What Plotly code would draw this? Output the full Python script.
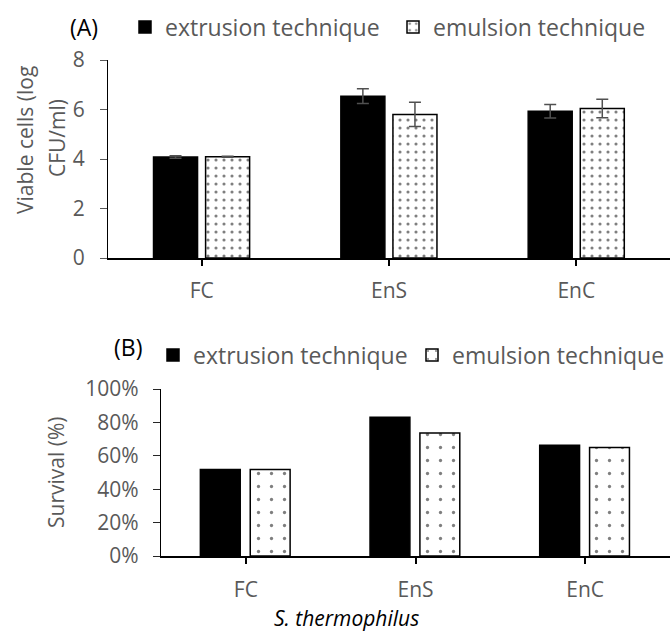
import plotly.graph_objects as go

categories = ["FC", "EnS", "EnC"]
series_names = ["extrusion technique", "emulsion technique"]

# Panel A: viable cells (log CFU/ml)
viable_extrusion = [4.08, 6.54, 5.93]
viable_extrusion_err = [0.05, 0.30, 0.27]
viable_emulsion = [4.09, 5.80, 6.04]
viable_emulsion_err = [0.02, 0.49, 0.37]

# Panel B: survival (%)
survival_extrusion = [0.518, 0.831, 0.663]
survival_emulsion = [0.518, 0.737, 0.649]

yA_ticks = [0, 2, 4, 6, 8]
yB_ticks = [0, 0.2, 0.4, 0.6, 0.8, 1.0]

W, H = 670, 632
FONT = "Open Sans"
GRAY = "#595959"

def px(x):
    return x / W

def py(y):
    return 1 - y / H

fig = go.Figure()

# Panel A
fig.add_trace(go.Bar(
    x=categories, y=viable_extrusion, name=series_names[0],
    marker=dict(color="black", line=dict(color="black", width=1.5)),
    error_y=dict(type="data", array=viable_extrusion_err, color="#505050", thickness=1.5, width=6),
    width=0.235, offset=-0.257, xaxis="x", yaxis="y", legend="legend",
))
fig.add_trace(go.Bar(
    x=categories, y=viable_emulsion, name=series_names[1],
    marker=dict(color="white", line=dict(color="black", width=1.5),
                pattern=dict(shape=".", fgcolor="black", bgcolor="white", size=8, solidity=0.12)),
    error_y=dict(type="data", array=viable_emulsion_err, color="#505050", thickness=1.5, width=6),
    width=0.235, offset=0.021, xaxis="x", yaxis="y", legend="legend",
))

# Panel B
fig.add_trace(go.Bar(
    x=categories, y=survival_extrusion, name=series_names[0],
    marker=dict(color="black", line=dict(color="black", width=1.5)),
    width=0.235, offset=-0.268, xaxis="x2", yaxis="y2", legend="legend2",
))
fig.add_trace(go.Bar(
    x=categories, y=survival_emulsion, name=series_names[1],
    marker=dict(color="white", line=dict(color="black", width=1.5),
                pattern=dict(shape=".", fgcolor="black", bgcolor="white", size=13, solidity=0.05)),
    width=0.235, offset=0.026, xaxis="x2", yaxis="y2", legend="legend2",
))

axis_common = dict(showgrid=False, zeroline=False, automargin=False,
                   tickfont=dict(family=FONT, size=21, color=GRAY))

def note(text, x, y, size, color, angle=0):
    return dict(text=text, x=px(x), y=py(y), xref="paper", yref="paper", showarrow=False,
                xanchor="center", yanchor="middle", textangle=angle,
                font=dict(family=FONT, size=size, color=color))

fig.update_layout(
    width=W, height=H,
    margin=dict(l=0, r=0, t=0, b=0, autoexpand=False),
    paper_bgcolor="white", plot_bgcolor="white",
    font=dict(family=FONT, color=GRAY),
    barmode="group",
    xaxis=dict(domain=[px(108), 1.0], anchor="y", showline=True, linecolor="black", linewidth=2,
               ticks="outside", tickcolor="black", ticklen=6, tickwidth=1.5,
               ticklabelstandoff=7, **axis_common),
    yaxis=dict(domain=[py(258), py(60)], anchor="x", range=[0, 8], tickvals=yA_ticks,
               showline=True, linecolor="black", linewidth=1.2,
               ticks="outside", tickcolor=GRAY, ticklen=7, tickwidth=1.2,
               ticklabelstandoff=11, **axis_common),
    xaxis2=dict(domain=[px(161), 1.0], anchor="y2", showline=True, linecolor="black", linewidth=2,
                ticks="outside", tickcolor="black", ticklen=6, tickwidth=1.5,
                ticklabelstandoff=8, **axis_common),
    yaxis2=dict(domain=[py(556), py(389)], anchor="x2", range=[0, 1.0], tickvals=yB_ticks,
                tickformat=".0%", showline=True, linecolor="black", linewidth=1.2,
                ticks="outside", tickcolor="#262626", ticklen=7, tickwidth=1.2,
                ticklabelstandoff=10, **axis_common),
    legend=dict(orientation="h", xref="container", yref="container",
                x=px(125), y=py(27), xanchor="left", yanchor="middle",
                font=dict(family=FONT, size=23, color=GRAY), bgcolor="rgba(0,0,0,0)",
                itemwidth=30, tracegroupgap=0, entrywidth=223, entrywidthmode="pixels"),
    legend2=dict(orientation="h", xref="container", yref="container",
                 x=px(153), y=py(355), xanchor="left", yanchor="middle",
                 font=dict(family=FONT, size=23, color=GRAY), bgcolor="rgba(0,0,0,0)",
                 itemwidth=30, tracegroupgap=0, entrywidth=214, entrywidthmode="pixels"),
    annotations=[
        note("(A)", 84, 27, 23, "black"),
        note("(B)", 128, 347, 23, "black"),
        note("Viable cells (log", 25, 140, 21, GRAY, angle=-90),
        note("CFU/ml)", 57, 138, 21, GRAY, angle=-90),
        note("Survival (%)", 56, 473, 21, GRAY, angle=-90),
        note("<i>S. thermophilus</i>", 346, 618, 21, "black"),
    ],
)

fig.write_html("out.html")
